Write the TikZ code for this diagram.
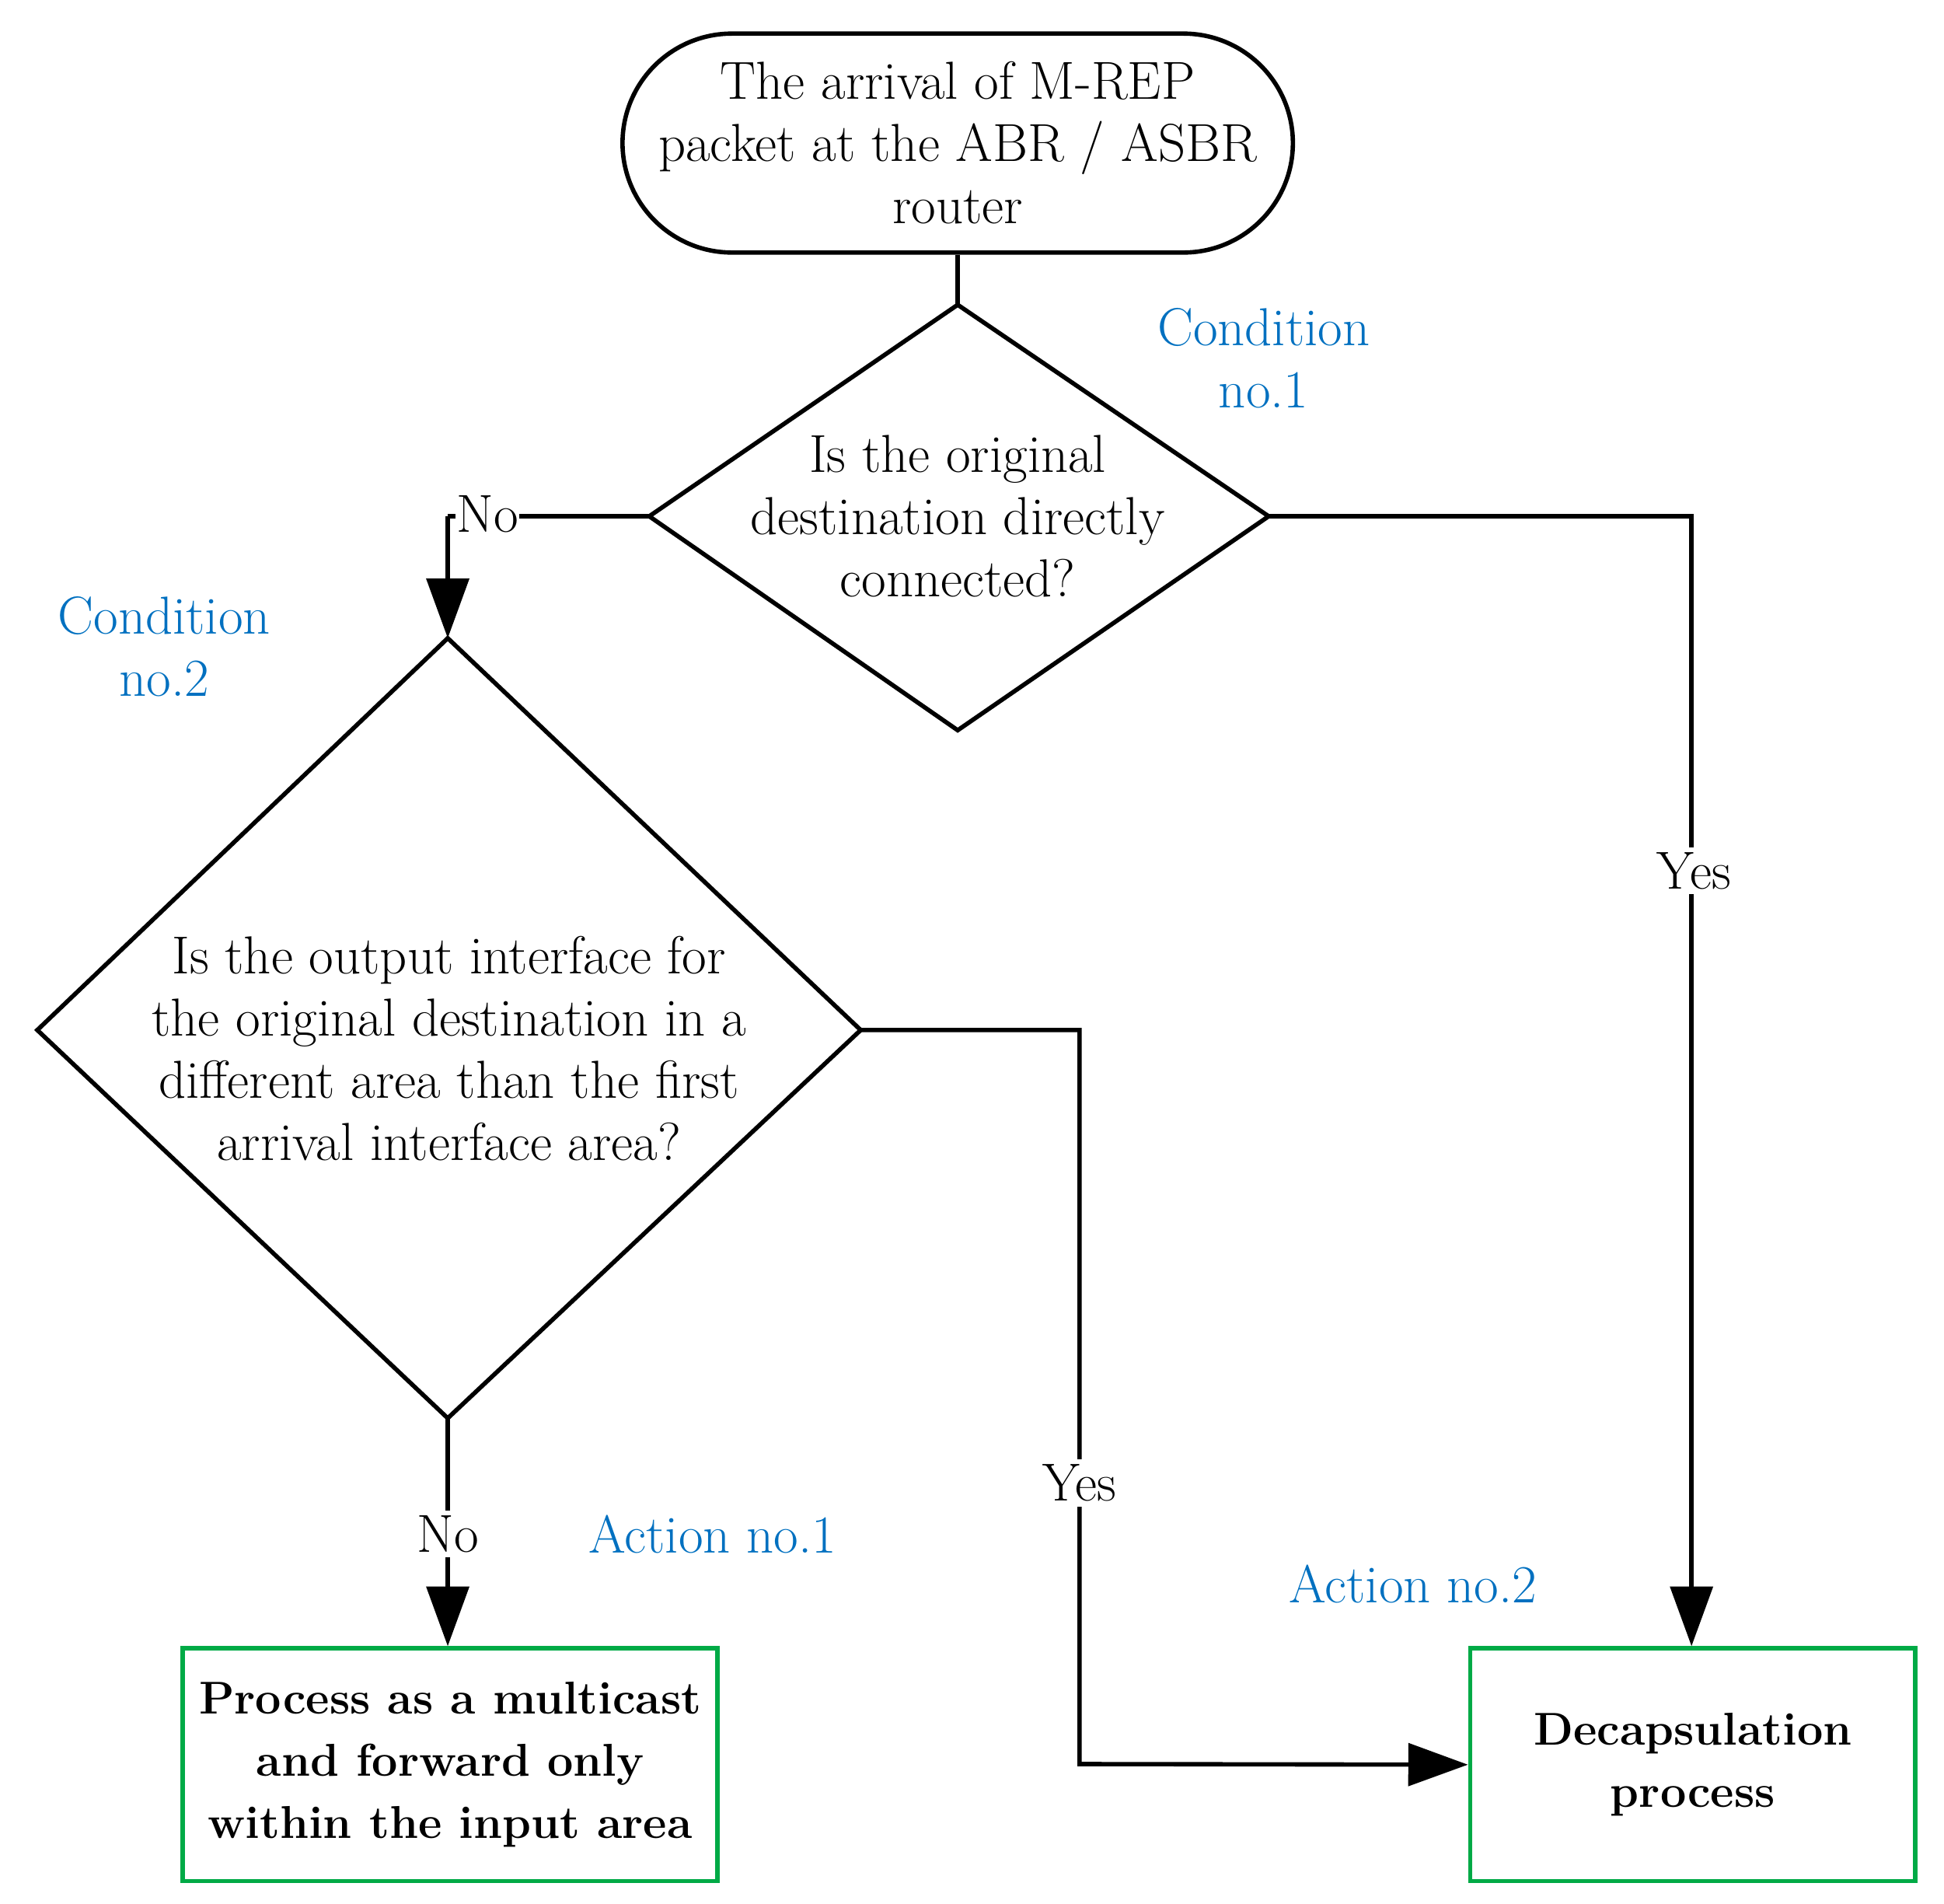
\documentclass[tikz,border=0pt]{standalone}
\usetikzlibrary{arrows.meta,shapes.geometric,shapes.misc}
\definecolor{bblue}{RGB}{0,112,192}
\definecolor{ggreen}{RGB}{0,170,70}
\begin{document}
\begin{tikzpicture}[x=1pt,y=-1pt,
  every node/.style={font=\fontsize{43}{50}\selectfont, align=center, inner sep=0pt},
  ln/.style={line width=3.5pt},
  arr/.style={ln,-{Triangle[length=48pt,width=34pt]}},
  lab/.style={fill=white, inner sep=4pt},
  blu/.style={text=bblue},
  gbox/.style={draw=ggreen, line width=3.5pt, font=\fontsize{37}{50}\selectfont\bfseries}]
\useasboundingbox (0,0) rectangle (1563,1530);
\node[draw, ln, rounded rectangle, minimum width=526pt, minimum height=176pt] (start) at (770,115)
  {The arrival of M-REP\\packet at the ABR / ASBR\\router};
\coordinate (d1t) at (770,245); \coordinate (d1l) at (522,415);
\coordinate (d1r) at (1020,415); \coordinate (d1b) at (770,587);
\draw[ln, line join=miter] (d1t) -- (d1r) -- (d1b) -- (d1l) -- cycle;
\node (q1) at (770,415) {Is the original\\destination directly\\connected?};
\coordinate (d2t) at (360,513); \coordinate (d2l) at (30,828);
\coordinate (d2r) at (692,828); \coordinate (d2b) at (360,1140);
\draw[ln, line join=miter] (d2t) -- (d2r) -- (d2b) -- (d2l) -- cycle;
\node (q2) at (361,843) {Is the output interface for\\the original destination in a\\different area than the first\\arrival interface area?};
\node[gbox, minimum width=430pt, minimum height=187pt] (b1) at (362,1418.5)
  {Process as a multicast\\and forward only\\within the input area};
\node[gbox, minimum width=358pt, minimum height=187pt] (b2) at (1361,1418.5)
  {Decapsulation\\process};
\draw[ln] (start.south) -- (d1t);
\coordinate (c1) at (360,415);
\draw[ln] (d1l) -- (c1);
\draw[arr] (c1) -- (d2t);
\node[fill=white, inner sep=1pt] (no1) at (392,413) {No};
\coordinate (c2) at (1360,415);
\draw[arr] (d1r) -- (c2) -- (b2.north -| c2);
\node[lab] (yes1) at (1362,700) {Yes};
\coordinate (c3) at (868,828); \coordinate (c4) at (868,1418);
\draw[arr] (d2r) -- (c3) -- (c4) -- (b2.west);
\node[lab] (yes2) at (868,1192) {Yes};
\draw[arr] (d2b) -- (b1.north -| d2b);
\node[lab] (no2) at (360,1233) {No};
\node[blu] (cn1) at (1016,288) {Condition\\no.1};
\node[blu] (cn2) at (132,520) {Condition\\no.2};
\node[blu] (an1) at (573,1233) {Action no.1};
\node[blu] (an2) at (1136,1273) {Action no.2};
\end{tikzpicture}
\end{document}
